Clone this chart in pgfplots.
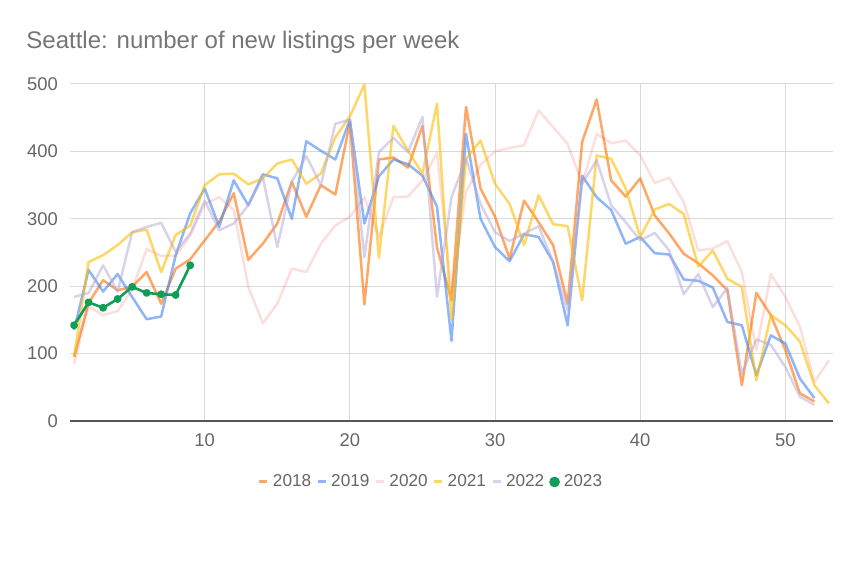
\documentclass[border=0pt]{standalone}
\usepackage{fontspec}
\setmainfont{Liberation Sans}
\usepackage{pgfplots}
\usepackage{pgfplotstable}
\pgfplotsset{compat=1.18}

\definecolor{c18}{HTML}{FF6D01}
\definecolor{c19}{HTML}{4285F4}
\definecolor{c20}{HTML}{EA4335}
\definecolor{c21}{HTML}{FBBC04}
\definecolor{c22}{HTML}{B4A7D6}
\definecolor{c23}{HTML}{0F9D58}
\definecolor{txt}{HTML}{666666}
\definecolor{ttl}{HTML}{757575}
\definecolor{grd}{HTML}{D9D9D9}
\definecolor{axl}{HTML}{555555}

% weekly new listings, one column per year
\pgfplotstableread{
wk  a18 a19 a20 a21 a22 a23
1   95  135 85  95  184 142
2   175 224 170 236 190 176
3   209 192 157 246 231 168
4   194 218 163 261 192 181
5   199 184 195 280 280 199
6   221 151 255 284 288 190
7   174 155 245 221 294 188
8   226 246 245 276 251 187
9   240 308 275 290 278 231
10  268 345 322 350 327 nan
11  296 288 332 366 283 nan
12  338 357 313 367 293 nan
13  239 320 199 351 320 nan
14  263 366 145 360 362 nan
15  293 360 174 382 258 nan
16  355 300 226 388 355 nan
17  303 415 221 352 393 nan
18  350 401 263 367 350 nan
19  336 388 290 421 441 nan
20  443 447 303 452 447 nan
21  173 293 332 499 243 nan
22  388 363 273 242 399 nan
23  391 388 332 438 420 nan
24  376 381 333 401 399 nan
25  438 364 357 367 451 nan
26  258 318 398 471 184 nan
27  179 119 190 150 332 nan
28  466 426 340 389 389 nan
29  345 300 380 416 322 nan
30  303 258 400 352 280 nan
31  241 237 405 322 267 nan
32  327 277 409 261 278 nan
33  295 273 461 335 289 nan
34  261 236 436 292 236 nan
35  174 142 411 289 164 nan
36  414 364 352 179 352 nan
37  477 332 426 394 387 nan
38  357 313 412 389 320 nan
39  333 263 416 345 295 nan
40  360 273 394 273 268 nan
41  305 249 353 314 279 nan
42  278 247 361 322 253 nan
43  248 210 325 307 188 nan
44  234 208 253 229 218 nan
45  216 198 256 253 169 nan
46  194 147 267 211 197 nan
47  53  142 221 199 70  nan
48  190 68  105 60  121 nan
49  157 127 218 157 113 nan
50  105 115 184 142 80  nan
51  41  63  140 118 36  nan
52  29  34  58  53  24  nan
53  nan nan 90  26  nan nan
}\listings

\begin{document}
\begin{tikzpicture}
\begin{axis}[
  at={(0,0)}, anchor=south west,
  scale only axis,
  width=381.5pt, height=168.5pt,
  xmin=0.72, xmax=53.28,
  ymin=0, ymax=500,
  xtick={10,20,30,40,50},
  ytick={0,100,200,300,400,500},
  major tick length=0pt,
  axis x line*=bottom, axis y line*=left,
  x axis line style={draw=axl, line width=0.6pt},
  y axis line style={draw=none},
  xmajorgrids, ymajorgrids,
  major grid style={draw=grd, line width=0.5pt},
  tick label style={font=\fontsize{9.2}{10}\selectfont, text=txt},
  /pgf/number format/assume math mode=true,
  yticklabel style={xshift=-2.5pt},
  xticklabel style={yshift=-3pt},
  unbounded coords=jump,
  clip=false,
  legend columns=6,
  legend style={draw=none, fill=none, at={(0.4745,-0.181)}, anchor=center,
    font=\fontsize{8.6}{10}\selectfont, text=txt,
    /tikz/every even column/.append style={column sep=0.5pt}},
  legend image code/.code={\draw[#1, line width=1.5pt] (0pt,0pt) -- (4pt,0pt);},
  every axis plot/.append style={line width=1.25pt, line join=round},
]
\addplot[c18, draw opacity=0.6] table[x=wk, y=a18] {\listings};
\addlegendentry{2018}
\addplot[c19, draw opacity=0.6] table[x=wk, y=a19] {\listings};
\addlegendentry{2019}
\addplot[c20, draw opacity=0.17] table[x=wk, y=a20] {\listings};
\addlegendentry{2020}
\addplot[c21, draw opacity=0.6] table[x=wk, y=a21] {\listings};
\addlegendentry{2021}
\addplot[c22, draw opacity=0.5] table[x=wk, y=a22] {\listings};
\addlegendentry{2022}
\addplot[c23, line width=1.3pt, mark=*, mark size=1.3pt,
  legend image code/.code={\fill[c23] (2pt,0pt) circle (2pt);}]
  table[x=wk, y=a23] {\listings};
\addlegendentry{2023}
\end{axis}
\node[anchor=base west, text=ttl, font=\fontsize{12}{14}\selectfont, inner sep=0pt]
  at (-22pt,186pt) {Seattle: number of new listings per week};
\pgfresetboundingbox
\path[use as bounding box] (-35pt,-77.5pt) rectangle (397pt,210.5pt);
\end{tikzpicture}
\end{document}
